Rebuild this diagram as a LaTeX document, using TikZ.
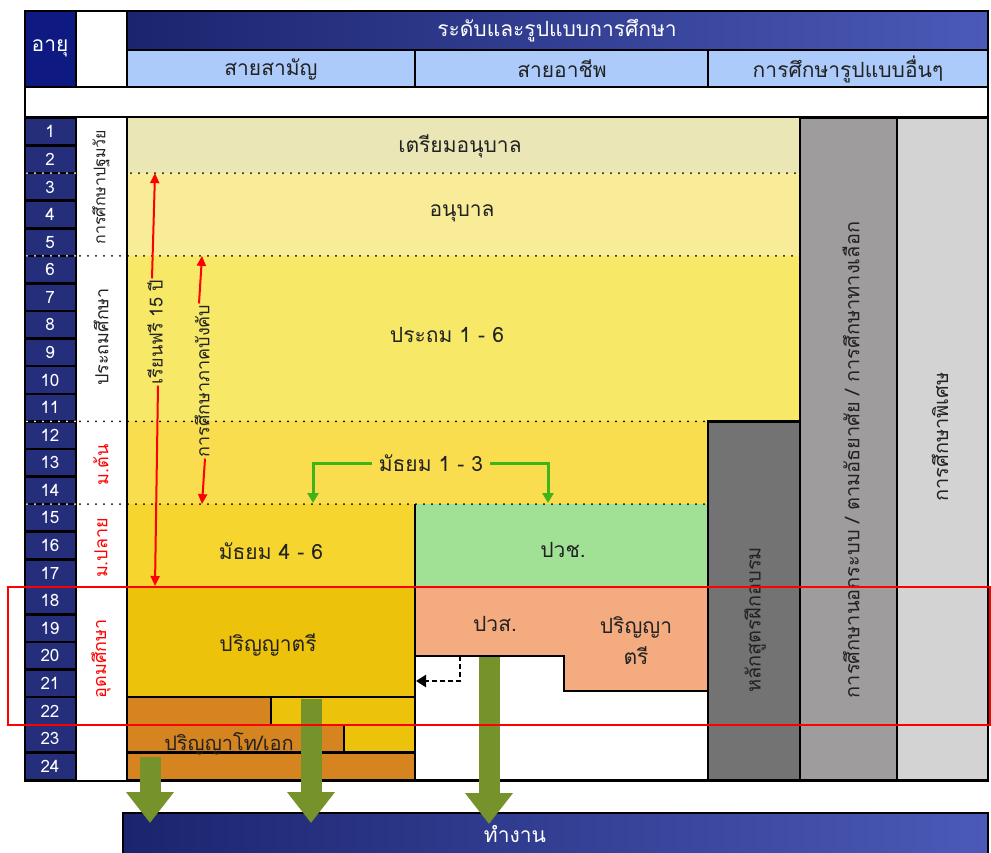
\documentclass[tikz,border=0pt]{standalone}
\usepackage{fontspec}
\setmainfont[Script=Thai]{Loma}
\usetikzlibrary{arrows.meta,calc}
\definecolor{navyD}{HTML}{0E1A82}
\definecolor{navyA}{HTML}{252E7B}
\definecolor{gradL}{HTML}{1B246E}
\definecolor{gradR}{HTML}{4B5AB8}
\definecolor{lblue}{HTML}{ADCBFA}
\definecolor{khaki}{HTML}{EBE6B5}
\definecolor{lyel}{HTML}{F8EC98}
\definecolor{yelA}{HTML}{F7E967}
\definecolor{yelB}{HTML}{F9DD4F}
\definecolor{yelC}{HTML}{F6D52E}
\definecolor{gold}{HTML}{EDC20A}
\definecolor{orng}{HTML}{D6841F}
\definecolor{grn}{HTML}{A0E195}
\definecolor{salm}{HTML}{F4AB7F}
\definecolor{dgray}{HTML}{737373}
\definecolor{mgray}{HTML}{9E9C9D}
\definecolor{lgray}{HTML}{D3D3D3}
\definecolor{olive}{HTML}{76922A}
\definecolor{garrow}{HTML}{3DB518}
\definecolor{txt}{HTML}{222222}
\tikzset{
  bx/.style={draw=black, line width=2.5pt},
  bline/.style={draw=black, line width=2.5pt},
  lbl/.style={font=\fontsize{21}{25}\selectfont, text=txt, inner sep=1pt},
  hlbl/.style={font=\fontsize{21}{25}\selectfont, text=white, inner sep=1pt},
  vlbl/.style={font=\fontsize{18}{22}\selectfont, text=txt, rotate=90, inner sep=1pt},
  rlbl/.style={font=\fontsize{18}{22}\selectfont, text=red, rotate=90, inner sep=1pt},
  agenum/.style={font=\fontsize{17}{19}\selectfont, text=white, inner sep=0pt},
  dotb/.style={draw=black, line width=2pt, line cap=round, dash pattern=on 0pt off 8pt},
  dotw/.style={draw=white, line width=2pt, line cap=round, dash pattern=on 0pt off 8pt},
  redarr/.style={draw=red, line width=2pt, -{Triangle[width=9pt,length=10pt]}},
  grnarr/.style={draw=garrow, line width=3pt, -{Triangle[width=11pt,length=10pt]}},
  bigarr/.style={draw=olive, line width=21pt, -{Triangle[width=46pt,length=31pt]}},
}
\begin{document}
\begin{tikzpicture}[x=1pt,y=-1pt]
\useasboundingbox (0,0) rectangle (991,852);
% ---- header ----
\draw[bx, fill=navyD] (25,11) rectangle (76,87);
\node[hlbl] (ageh) at (50,48) {อายุ};
\draw[bx, fill=white] (76,11) rectangle (127,87);
\draw[bx, left color=gradL, right color=gradR] (127,11) rectangle (988,50);
\node[hlbl] (title) at (557,31) {ระดับและรูปแบบการศึกษา};
\draw[bx, fill=lblue] (127,50) rectangle (415,87);
\draw[bx, fill=lblue] (415,50) rectangle (708,87);
\draw[bx, fill=lblue] (708,50) rectangle (988,87);
\node[lbl] (h1) at (271,69) {สายสามัญ};
\node[lbl] (h2) at (562,69) {สายอาชีพ};
\node[lbl] (h3) at (848,69) {การศึกษารูปแบบอื่นๆ};
\draw[bx, fill=white] (25,87) rectangle (988,117);
% ---- age column ----
\foreach \i in {1,...,24}{
  \pgfmathsetmacro\ya{118+27.58*(\i-1)}
  \pgfmathsetmacro\yb{\ya+27.58}
  \draw[bx, fill=navyA] (25,\ya) rectangle (76,\yb);
  \node[agenum] (age\i) at (50,{(\ya+\yb)/2}) {\i};
}
\draw[bx, fill=white] (76,117) rectangle (127,781);
% ---- bands ----
\fill[khaki] (127,118) rectangle (800,173.16);
\fill[lyel] (127,173.16) rectangle (800,255.9);
\fill[yelA] (127,255.9) rectangle (800,421.38);
\fill[yelB] (127,421.38) rectangle (708,504.12);
\fill[yelC] (127,504.12) rectangle (415,586.86);
\fill[grn] (415,504.12) rectangle (708,586.86);
\fill[gold] (127,586.86) rectangle (415,697.18);
\fill[white] (415,586.86) rectangle (708,780);
\fill[salm] (415,586.86) -- (708,586.86) -- (708,691) -- (564,691) -- (564,656) -- (415,656) -- cycle;
\draw[bline] (415,656) -- (564,656) -- (564,691) -- (708,691);
% rows 22-24
\draw[bx, fill=gold] (271,697.18) rectangle (415,752.34);
\draw[bx, fill=orng] (127,697.18) rectangle (271,724.76);
\draw[bx, fill=orng] (127,724.76) rectangle (344,752.34);
\draw[bx, fill=orng] (127,752.34) rectangle (415,780);
% gray columns
\draw[bx, fill=dgray] (708,421.38) rectangle (800,780);
\draw[bx, fill=mgray] (800,118) rectangle (897,780);
\draw[bx, fill=lgray] (897,118) rectangle (988,780);
% structural lines
\draw[bline] (127,117) -- (127,781);
\draw[bline] (415,504.12) -- (415,780);
\draw[bline] (127,697.18) -- (415,697.18);
\draw[bline] (127,780) -- (988,780);
\draw[bx] (25,11) rectangle (988,781);
% dotted lines
\draw[dotb] (131,173.16) -- (800,173.16);
\draw[dotb] (80,255.9) -- (800,255.9);
\draw[dotb] (80,421.38) -- (800,421.38);
\draw[dotb] (80,504.12) -- (708,504.12);
\foreach \y in {173.16,255.9,421.38,504.12}{
  \draw[dotw] (27,\y) -- (75,\y);
}
% ---- column 2 labels ----
\node[vlbl, font=\fontsize{16}{20}\selectfont] (c2a) at (101,187) {การศึกษาปฐมวัย};
\node[vlbl] (c2b) at (101,337) {ประถมศึกษา};
\node[rlbl] (c2c) at (101,465) {ม.ต้น};
\node[rlbl] (c2d) at (101,548) {ม.ปลาย};
\node[rlbl] (c2e) at (101,659) {อุดมศึกษา};
% ---- main labels ----
\node[lbl] (n1) at (460,146) {เตรียมอนุบาล};
\node[lbl] (n2) at (462,213) {อนุบาล};
\node[lbl] (n3) at (447,335) {ประถม 1 - 6};
\node[lbl] (n4) at (431,463) {มัธยม 1 - 3};
\node[lbl] (n5) at (271,551) {มัธยม 4 - 6};
\node[lbl] (n6) at (563,550) {ปวช.};
\node[lbl] (n7) at (495,624) {ปวส.};
\node[lbl, align=center] (n8) at (636,641) {ปริญญา\\[6pt]ตรี};
\node[lbl] (n9) at (268,645) {ปริญญาตรี};
\node[lbl, font=\fontsize{20}{24}\selectfont] (n10) at (229,744) {ปริญญาโท/เอก};
\node[vlbl, font=\fontsize{20}{24}\selectfont] (n11) at (755,620) {หลักสูตรฝึกอบรม};
\node[vlbl, font=\fontsize{20}{24}\selectfont] (n12) at (851,460) {การศึกษานอกระบบ / ตามอัธยาศัย / การศึกษาทางเลือก};
\node[vlbl, font=\fontsize{20}{24}\selectfont] (n13) at (940,437) {การศึกษาพิเศษ};
% ---- red arrows ----
\node[vlbl] (free) at (155,332) {เรียนฟรี 15 ปี};
\coordinate (freeT) at (155,173.16);
\coordinate (freeB) at (155,586);
\draw[redarr] ([xshift=-3pt]free.east) -- (freeT);
\draw[redarr] ([xshift=3pt]free.west) -- (freeB);
\node[vlbl] (comp) at (202,381) {การศึกษาภาคบังคับ};
\coordinate (compT) at (202,255.9);
\coordinate (compB) at (202,504.12);
\draw[redarr] ([xshift=-3pt]comp.east) -- (compT);
\draw[redarr] ([xshift=3pt]comp.west) -- (compB);
% ---- green arrows ----
\coordinate (gl) at (313,503);
\coordinate (gr) at (548,503);
\draw[grnarr] ([xshift=-6pt]n4.west) -| (gl);
\draw[grnarr] ([xshift=6pt]n4.east) -| (gr);
% ---- dashed arrow ----
\coordinate (dA) at (460,656);
\coordinate (dB) at (416,681);
\draw[black, line width=2.4pt, dash pattern=on 5pt off 3pt, -{Triangle[width=12pt,length=10pt]}] (dA) |- (dB);
% ---- bottom bar ----
\draw[bx, left color=gradL, right color=gradR] (123,813) rectangle (988,858);
\node[hlbl] (work) at (515,834) {ทำงาน};
% ---- big arrows ----
\coordinate (a1s) at (150,757);
\coordinate (a1e) at (150,823);
\coordinate (a2s) at (311,699);
\coordinate (a2e) at (311,823);
\coordinate (a3s) at (489,657);
\coordinate (a3e) at (489,824);
\draw[bigarr] (a1s) -- (a1e);
\draw[bigarr] (a2s) -- (a2e);
\draw[bigarr] (a3s) -- (a3e);
% ---- red frame ----
\draw[red, line width=2.5pt] (8,587) rectangle (990,725);
\end{tikzpicture}
\end{document}
